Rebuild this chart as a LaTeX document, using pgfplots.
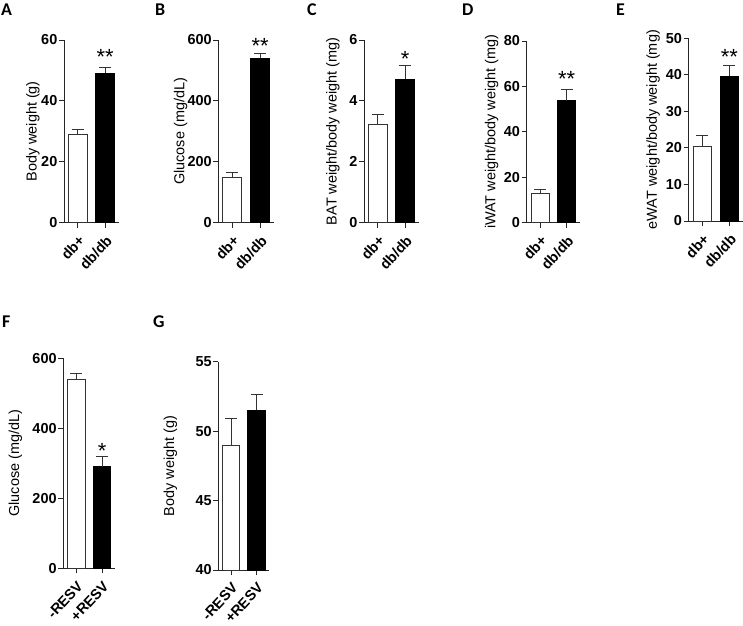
\documentclass[border=0pt]{standalone}
\usepackage{pgfplots}
\pgfplotsset{compat=1.18}
\usepackage{fontspec}
\setmainfont{Liberation Sans}
\newfontfamily\letterfont{Carlito}
\pgfplotsset{
  panel/.style={
    scale only axis,
    axis x line*=bottom, axis y line*=left,
    xmin=-0.5, xmax=1.5, xtick={0,1},
    tick align=outside, major tick length=5bp,
    axis line style={line width=0.9bp, black!85, -},
    tick style={line width=0.9bp, black!85},
    yticklabel style={font=\fontsize{14.5}{14.5}\selectfont\bfseries, inner sep=1.5bp},
    xticklabel style={font=\fontsize{14.5}{14.5}\selectfont\bfseries, rotate=47, anchor=north east, inner sep=0.5bp},
    xticklabel shift=6bp,
    ylabel style={font=\fontsize{14.5}{14.5}\selectfont, anchor=center},
    clip=false, ymin=0,
    /pgf/number format/assume math mode=true,
    /pgf/number format/1000 sep={},
  },
  wbar/.style={ybar, bar shift=0pt, bar width=0.68, fill=white, draw=black!80, line width=0.9bp,
    error bars/.cd, y dir=plus, y explicit,
    error bar style={line width=0.9bp, black!80},
    error mark options={rotate=90, mark size=6bp, line width=0.9bp, black!80}},
  bbar/.style={ybar, bar shift=0pt, bar width=0.68, fill=black, draw=black, line width=0.9bp,
    error bars/.cd, y dir=plus, y explicit,
    error bar style={line width=0.9bp, black!80},
    error mark options={rotate=90, mark size=6bp, line width=0.9bp, black!80}},
}
\newcommand{\stars}[1]{\fontsize{22}{22}\selectfont #1}
\begin{document}
\begin{tikzpicture}
% A
\begin{axis}[panel, width=55bp, height=182.7bp, at={(64bp,-222.7bp)}, anchor=south west,
  ymax=60, ytick={0,20,40,60}, xticklabels={db+,db/db},
  ylabel={Body weight (g)}, ylabel style={at={(axis description cs:-0.564,0.5)}}]
\addplot[wbar] coordinates {(0,29.0) +- (0,1.7)};
\addplot[bbar] coordinates {(1,49.1) +- (0,1.8)};
\node[anchor=north, inner sep=0pt] at (axis cs:1,56.9) {\stars{**}};
\end{axis}
% B
\begin{axis}[panel, width=55.7bp, height=182.7bp, at={(218.3bp,-222.7bp)}, anchor=south west,
  ymax=600, ytick={0,200,400,600}, xticklabels={db+,db/db},
  ylabel={Glucose (mg/dL)}, ylabel style={at={(axis description cs:-0.675,0.5)}}]
\addplot[wbar] coordinates {(0,150) +- (0,14)};
\addplot[bbar] coordinates {(1,541) +- (0,15)};
\node[anchor=north, inner sep=0pt] at (axis cs:1,605) {\stars{**}};
\end{axis}
% C
\begin{axis}[panel, width=55bp, height=182.7bp, at={(364bp,-222.7bp)}, anchor=south west,
  ymax=6, ytick={0,2,4,6}, xticklabels={db+,db/db},
  ylabel={BAT weight/body weight (mg)}, ylabel style={at={(axis description cs:-0.564,0.5)}}]
\addplot[wbar] coordinates {(0,3.22) +- (0,0.32)};
\addplot[bbar] coordinates {(1,4.72) +- (0,0.45)};
\node[anchor=north, inner sep=0pt] at (axis cs:1,5.62) {\stars{*}};
\end{axis}
% D
\begin{axis}[panel, width=53.3bp, height=181.7bp, at={(526.7bp,-222.7bp)}, anchor=south west,
  ymax=80, ytick={0,20,40,60,80}, xticklabels={db+,db/db},
  ylabel={iWAT weight/body weight (mg)}, ylabel style={at={(axis description cs:-0.657,0.5)}}]
\addplot[wbar] coordinates {(0,12.9) +- (0,1.8)};
\addplot[bbar] coordinates {(1,53.7) +- (0,5.0)};
\node[anchor=north, inner sep=0pt] at (axis cs:1,66.5) {\stars{**}};
\end{axis}
% E
\begin{axis}[panel, width=54.3bp, height=182.7bp, at={(688.7bp,-221bp)}, anchor=south west,
  ymax=50, ytick={0,10,20,30,40,50}, xticklabels={db+,db/db},
  ylabel={eWAT weight/body weight (mg)}, ylabel style={at={(axis description cs:-0.657,0.5)}}]
\addplot[wbar] coordinates {(0,20.4) +- (0,3.0)};
\addplot[bbar] coordinates {(1,39.6) +- (0,3.1)};
\node[anchor=north, inner sep=0pt] at (axis cs:1,47.0) {\stars{**}};
\end{axis}
% F
\begin{axis}[panel, width=51.7bp, height=210bp, at={(63.3bp,-568.3bp)}, anchor=south west,
  ymax=600, ytick={0,200,400,600}, xticklabels={-RESV,+RESV},
  ylabel={Glucose (mg/dL)}, ylabel style={at={(axis description cs:-0.928,0.5)}}]
\addplot[wbar] coordinates {(0,541) +- (0,15)};
\addplot[bbar] coordinates {(1,290) +- (0,29)};
\node[anchor=north, inner sep=0pt] at (axis cs:1,357) {\stars{*}};
\end{axis}
% G
\begin{axis}[panel, width=51bp, height=208.3bp, at={(218.3bp,-570bp)}, anchor=south west,
  ymin=40, ymax=55, ytick={40,45,50,55}, xticklabels={-RESV,+RESV},
  ylabel={Body weight (g)}, ylabel style={at={(axis description cs:-0.941,0.5)}}]
\addplot[wbar] coordinates {(0,49.0) +- (0,1.9)};
\addplot[bbar] coordinates {(1,51.5) +- (0,1.15)};
\end{axis}
% panel letters
\begin{scope}[every node/.style={anchor=north west, inner sep=0pt, font=\letterfont\bfseries\fontsize{18}{18}\selectfont}]
\node at (1bp,-4bp) {A};
\node at (155bp,-4bp) {B};
\node at (307bp,-4bp) {C};
\node at (462bp,-4bp) {D};
\node at (616bp,-4bp) {E};
\node at (2bp,-316bp) {F};
\node at (153bp,-316bp) {G};
\end{scope}
\pgfresetboundingbox
\path[use as bounding box] (0,0) rectangle (743bp,-626bp);
\end{tikzpicture}
\end{document}
